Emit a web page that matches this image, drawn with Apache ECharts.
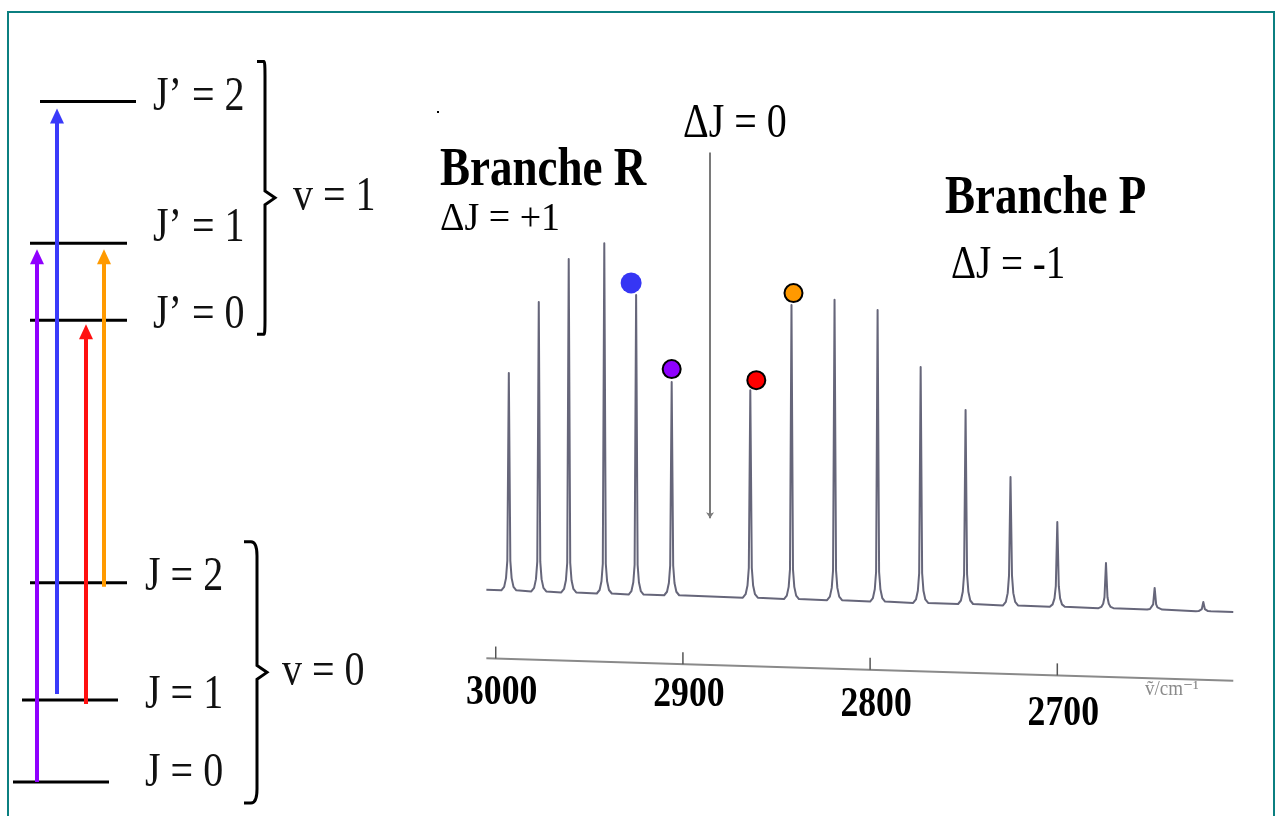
<!DOCTYPE html>
<html><head><meta charset="utf-8">
<script src="https://cdn.jsdelivr.net/npm/echarts@6/dist/echarts.min.js"></script>
<style>html,body{margin:0;padding:0;background:#fff}#c{width:1276px;height:816px}</style>
</head><body><div id="c"></div>
<script>
// ================= DATA =================
// IR spectrum (wavenumber in cm^-1, intensity in arbitrary units)
const rBranchWavenumbers = [2993, 2977, 2961, 2942, 2925, 2906];
const rBranchTops        = [62.0, 82.3, 94.6, 99.1, 84.3, 59.4];
const rBranchBases       = [-0.1, -0.4, -0.7, -1.0, -1.3, -1.5];
const pBranchWavenumbers = [2864, 2842, 2819, 2796, 2773, 2749, 2725, 2700, 2674, 2648, 2622];
const pBranchTops        = [57.1, 81.4, 82.9, 80.0, 63.7, 51.4, 32.3, 19.4, 7.7, 0.6, -3.4];
const pBranchBases       = [-2.2, -2.6, -2.9, -3.3, -3.7, -4.0, -4.4, -4.8, -5.2, -5.6, -6.1];
const spectrumStart = [3005, 0.1];
const spectrumEnd   = [2606, -6.3];
const bandOrigin = 2885.5;               // ΔJ = 0 (missing Q branch)
const axisTickLabels = [3000, 2900, 2800, 2700];
const markedPeakWavenumbers = [2925, 2906, 2864, 2842]; // R(1), R(0), P(1), P(2)

// Energy-level diagram (arbitrary energy units)
const levelNames    = ['J = 0', 'J = 1', 'J = 2', 'J\u2019 = 0', 'J\u2019 = 1', 'J\u2019 = 2'];
const levelEnergies = [0, 1.0, 2.43, 5.63, 6.57, 8.30];
const vibrationalLabels = ['v = 0', 'v = 1'];
const vibrationalLow  = [0, 3];   // level index of lowest J in each v
const vibrationalHigh = [2, 5];   // level index of highest J in each v
const transitionFrom = [0, 1, 1, 2];  // J=0→J'=1, J=1→J'=2, J=1→J'=0, J=2→J'=1
const transitionTo   = [4, 5, 3, 4];

// ================= STYLE / LAYOUT =================
const SERIF = '"Liberation Serif","DejaVu Serif",serif';
const MARK_COLORS = ['#3636f4', '#8f00ff', '#ff0000', '#ff9900'];
const MARK_SIZES = [21, 18, 18, 18];
const MARK_OFFSETS = [[-5, -12], [0, -13], [6, -10], [2, -12]];
const MARK_BORDER = [0, 2, 2, 2];
const LEVEL_X = [[13, 109], [22, 118], [30, 127], [30, 127], [30, 127], [40, 136]];
const LEVEL_LABEL_X = [145, 145, 145, 153, 153, 153];
const LEVEL_LABEL_DY = [-9, -5, -5, -5, -15, -4];
const ARROW_X = [37, 57, 86, 104];
const ARROW_START_DY = [0, -6, 4, 4];
const ARROW_TIP_DY = [6, 7, 4, 6];
const ARROW_COLORS = ['#9000ff', '#3a3afa', '#ff1010', '#ff9a00'];
const BRACE = [
  {xl: 244, xs: 257, xt: 267, topDy: -41, botDy: 21, labelX: 282},
  {xl: 257, xs: 265, xt: 275, topDy: -40, botDy: 14, labelX: 293}
];
const AXIS_OFFSET = 19.6;
const AXIS_LABEL_DY = [35, 31, 35, 39];
// peak profile (half-widths in cm^-1, rise above base in intensity units)
const PROFILE = [[4.0, 0], [2.5, 1.0], [1.5, 3.5], [0.8, 8.5]];

// ================= BUILD =================
const peakWn = rBranchWavenumbers.concat(pBranchWavenumbers);
const peakTop = rBranchTops.concat(pBranchTops);
const peakBase = rBranchBases.concat(pBranchBases);

const spectrumData = [spectrumStart.slice()];
peakWn.forEach((w, i) => {
  const b = peakBase[i], t = peakTop[i];
  const s = Math.min(1, (t - b) / 35);
  const left = PROFILE.map(p => [w + p[0], b + p[1] * s]);
  const right = PROFILE.slice().reverse().map(p => [w - p[0], b + p[1] * s]);
  spectrumData.push(...left, [w, t], ...right);
});
spectrumData.push(spectrumEnd.slice());

function axisLevel(w) {
  const f = (spectrumStart[0] - w) / (spectrumStart[0] - spectrumEnd[0]);
  return spectrumStart[1] + f * (spectrumEnd[1] - spectrumStart[1]) - AXIS_OFFSET;
}

const markData = markedPeakWavenumbers.map((w, j) => {
  const i = peakWn.indexOf(w);
  return {
    value: [w, peakTop[i]],
    symbolSize: MARK_SIZES[j],
    symbolOffset: MARK_OFFSETS[j],
    itemStyle: {color: MARK_COLORS[j], borderColor: '#000', borderWidth: MARK_BORDER[j], opacity: 1}
  };
});

function txt(text, x, y, size, o) {
  o = o || {};
  return {
    type: 'text', x: x, y: y, scaleY: o.sy || 1.2, scaleX: o.sx || 1, z: 10,
    style: {text: text, font: (o.bold ? 'bold ' : '') + size + 'px ' + SERIF, fill: o.color || '#000',
            align: o.align || 'left', verticalAlign: 'middle', textAlign: o.align || 'left', textVerticalAlign: 'middle'}
  };
}

const option = {
  backgroundColor: '#ffffff',
  animation: false,
  grid: [
    {left: 477, top: 135, width: 767.5, height: 595, containLabel: false},
    {left: 0, top: 3, width: 400, height: 811.8, containLabel: false}
  ],
  xAxis: [
    {gridIndex: 0, type: 'value', min: 2600, max: 3010, inverse: true, show: false},
    {gridIndex: 1, type: 'value', min: 0, max: 400, show: false}
  ],
  yAxis: [
    {gridIndex: 0, type: 'value', min: -40, max: 130, show: false},
    {gridIndex: 1, type: 'value', min: -0.4, max: 9.5, show: false}
  ],
  series: [
    {
      name: 'spectrum', type: 'line', xAxisIndex: 0, yAxisIndex: 0,
      data: spectrumData, showSymbol: false, symbol: 'none', smooth: false,
      lineStyle: {color: '#66667a', width: 2, join: 'round'}, z: 2,
      markLine: {
        silent: true, symbol: ['none', 'arrow'], symbolSize: [6, 6],
        lineStyle: {color: '#7a7a7a', width: 2, type: 'solid'}, label: {show: false},
        data: [[{coord: [bandOrigin, 125]}, {coord: [bandOrigin, 20.5]}]]
      }
    },
    {
      name: 'axis', type: 'line', xAxisIndex: 0, yAxisIndex: 0,
      data: [[spectrumStart[0], axisLevel(spectrumStart[0])], [spectrumEnd[0], axisLevel(spectrumEnd[0])]],
      showSymbol: false, symbol: 'none', lineStyle: {color: '#8a8a8a', width: 2}, z: 2
    },
    {
      name: 'ticks', type: 'custom', xAxisIndex: 0, yAxisIndex: 0,
      data: axisTickLabels.map(v => [v, axisLevel(v)]),
      renderItem: function (params, api) {
        const i = params.dataIndex;
        const p = api.coord([api.value(0), api.value(1)]);
        return {type: 'group', children: [
          {type: 'line', shape: {x1: p[0], y1: p[1], x2: p[0], y2: p[1] - 12}, style: {stroke: '#555', lineWidth: 1.5}},
          {type: 'text', x: p[0] + 6, y: p[1] + AXIS_LABEL_DY[i], scaleY: 1.2, scaleX: 1.02,
           style: {text: String(axisTickLabels[i]), font: 'bold 35px ' + SERIF, fill: '#000',
                   align: 'center', verticalAlign: 'middle', textAlign: 'center', textVerticalAlign: 'middle'}}
        ]};
      }, z: 3
    },
    {
      name: 'marked lines', type: 'scatter', xAxisIndex: 0, yAxisIndex: 0,
      data: markData, symbol: 'circle', z: 5
    },
    {
      name: 'levels', type: 'custom', xAxisIndex: 1, yAxisIndex: 1,
      data: levelEnergies.map((e, i) => [i, e]),
      renderItem: function (params, api) {
        const i = params.dataIndex, E = api.value(1);
        const a = api.coord([LEVEL_X[i][0], E]), b = api.coord([LEVEL_X[i][1], E]);
        return {type: 'group', children: [
          {type: 'line', shape: {x1: a[0], y1: a[1], x2: b[0], y2: b[1]}, style: {stroke: '#000', lineWidth: 3}, z2: 1},
          {type: 'text', x: LEVEL_LABEL_X[i], y: a[1] + LEVEL_LABEL_DY[i], scaleY: 1.2,
           style: {text: levelNames[i], font: '40px ' + SERIF, fill: '#111',
                   align: 'left', verticalAlign: 'middle', textAlign: 'left', textVerticalAlign: 'middle'}}
        ]};
      }, z: 3
    },
    {
      name: 'transitions', type: 'custom', xAxisIndex: 1, yAxisIndex: 1,
      data: transitionFrom.map((f, i) => [i, levelEnergies[f], levelEnergies[transitionTo[i]]]),
      renderItem: function (params, api) {
        const i = params.dataIndex, x = ARROW_X[i];
        const a = api.coord([x, api.value(1)]), b = api.coord([x, api.value(2)]);
        const px = a[0], y0 = a[1] + ARROW_START_DY[i], yt = b[1] + ARROW_TIP_DY[i];
        const c = ARROW_COLORS[i];
        return {type: 'group', children: [
          {type: 'line', shape: {x1: px, y1: y0, x2: px, y2: yt + 12}, style: {stroke: c, lineWidth: 4}},
          {type: 'polygon', shape: {points: [[px - 7, yt + 15], [px, yt], [px + 7, yt + 15]]}, style: {fill: c}}
        ]};
      }, z: 4
    },
    {
      name: 'braces', type: 'custom', xAxisIndex: 1, yAxisIndex: 1,
      data: vibrationalLabels.map((l, g) => [g, levelEnergies[vibrationalLow[g]], levelEnergies[vibrationalHigh[g]]]),
      renderItem: function (params, api) {
        const g = params.dataIndex, B = BRACE[g];
        const yTop = api.coord([0, api.value(2)])[1] + B.topDy;
        const yBot = api.coord([0, api.value(1)])[1] + B.botDy;
        const ym = (yTop + yBot) / 2;
        const d = 'M' + B.xl + ' ' + yTop + ' L' + (B.xl + 7) + ' ' + yTop +
          ' Q' + B.xs + ' ' + yTop + ' ' + B.xs + ' ' + (yTop + 14) +
          ' L' + B.xs + ' ' + (ym - 7) + ' L' + B.xt + ' ' + ym + ' L' + B.xs + ' ' + (ym + 7) +
          ' L' + B.xs + ' ' + (yBot - 14) + ' Q' + B.xs + ' ' + yBot + ' ' + (B.xl + 7) + ' ' + yBot +
          ' L' + B.xl + ' ' + yBot;
        return {type: 'group', children: [
          {type: 'path', shape: {pathData: d}, style: {stroke: '#000', lineWidth: 3, fill: null}},
          {type: 'text', x: B.labelX, y: ym, scaleY: 1.2,
           style: {text: vibrationalLabels[g], font: '40px ' + SERIF, fill: '#111',
                   align: 'left', verticalAlign: 'middle', textAlign: 'left', textVerticalAlign: 'middle'}}
        ]};
      }, z: 3
    }
  ],
  graphic: [
    {type: 'rect', shape: {x: 8, y: 12, width: 1266, height: 830}, style: {fill: null, stroke: '#0b7f80', lineWidth: 2}, z: 20, silent: true},
    txt('Branche R', 440, 171, 45, {bold: true}),
    txt('\u0394J = +1', 440, 219, 38, {sy: 1.08}),
    txt('\u0394J = 0', 683, 124, 40),
    txt('Branche P', 945, 199, 45, {bold: true}),
    txt('\u0394J = -1', 951, 266, 39),
    txt('\u1E7D/cm\u207B\u00B9', 1145, 690, 19, {color: '#8a8a8a', sy: 1.1}),
    {type: 'rect', shape: {x: 437, y: 111, width: 2, height: 2}, style: {fill: '#000'}, silent: true}
  ]
};

const chart = echarts.init(document.getElementById('c'), null, {renderer: 'canvas'});
chart.setOption(option);
</script>
</body></html>
